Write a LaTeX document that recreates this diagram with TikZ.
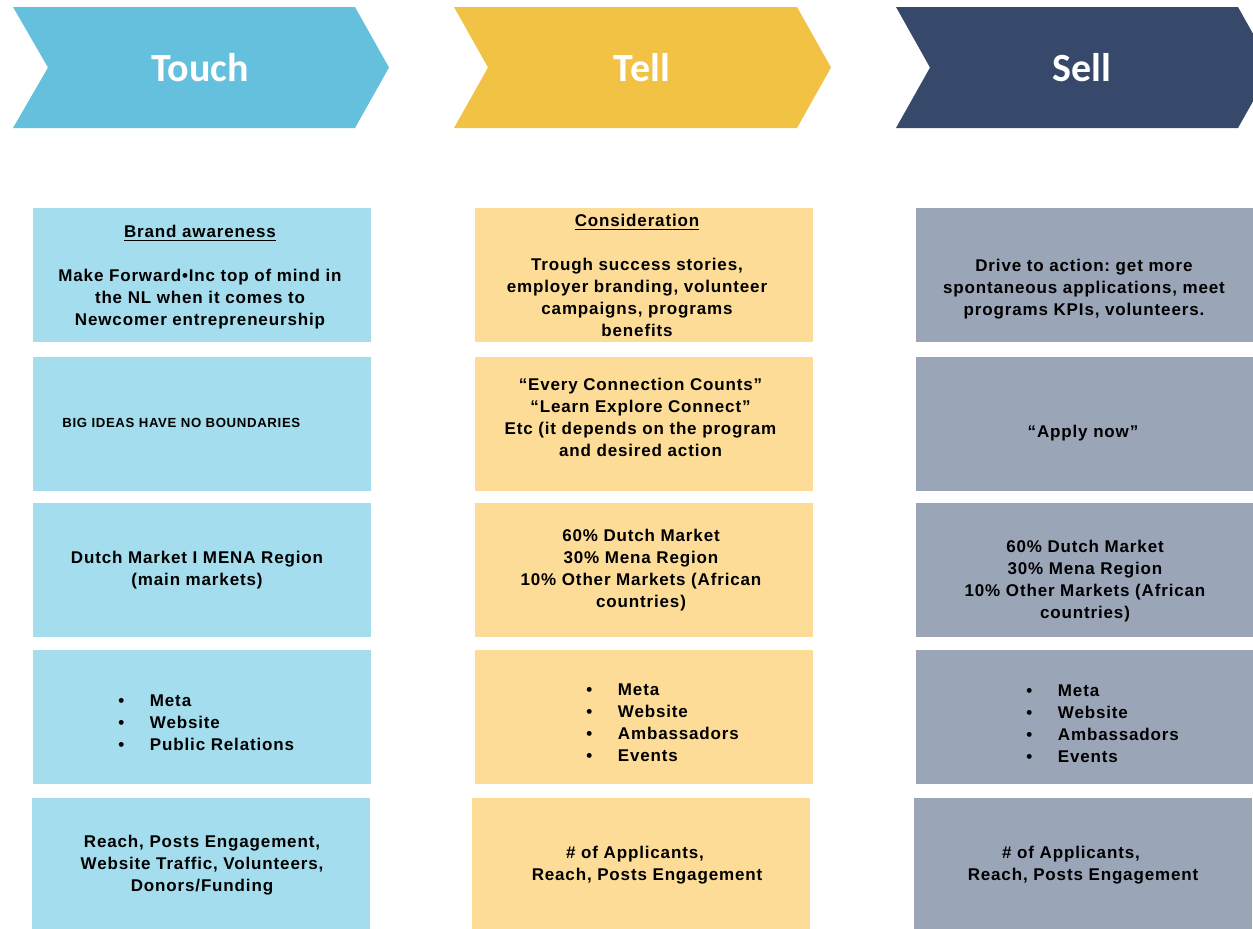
\documentclass[tikz,border=0pt]{standalone}
\usepackage{fontspec}
\setmainfont{Liberation Sans}
\newfontfamily\cellfont{Liberation Sans}[LetterSpace=5]
\newfontfamily\headfont{Carlito}
\frenchspacing
\usepackage{tikz}
\definecolor{touchblue}{HTML}{65C0DE}
\definecolor{tellgold}{HTML}{F1C244}
\definecolor{sellnavy}{HTML}{37496B}
\definecolor{touchlight}{HTML}{A4DDED}
\definecolor{telllight}{HTML}{FCDC96}
\definecolor{selllight}{HTML}{9AA5B8}
\tikzset {
  % captions on the chevrons
  head/.style={font=\headfont\bfseries\fontsize{20}{24}\selectfont, text=white},
  % coloured cells under each chevron
  cell/.style={minimum width=169pt, minimum height=67pt, inner sep=0pt},
  touchcell/.style={cell, fill=touchlight},
  tellcell/.style={cell, fill=telllight},
  sellcell/.style={cell, fill=selllight},
  % text in the cells
  txt/.style={font=\cellfont\bfseries\fontsize{8.5}{11}\selectfont, align=center, inner sep=0pt},
  bullets/.style={txt, align=left, anchor=west},
}
\newcommand{\channels}[1]{%
  \begin{tabular}{@{}l@{\hspace{12.8pt}}l@{}}#1\end{tabular}%
}

\begin{document}
\begin{tikzpicture}[x=0.5pt, y=-0.5pt]
        \useasboundingbox (0,0) rectangle (1253,928);
        \clip (0,0) rectangle (1253,928);

        % chevrons
        \fill[touchblue] (13,7) -- (355,7) -- (389,67.5) -- (355,128) -- (13,128) -- (48,67.5) -- cycle;
        \fill[tellgold] (454,7) -- (797,7) -- (831,67.5) -- (797,128) -- (454,128) -- (488,67.5) -- cycle;
        \fill[sellnavy] (896,7) -- (1238,7) -- (1272,67.5) -- (1238,128) -- (896,128) -- (930,67.5) -- cycle;
        \node[head] (touch) at (200,68) {Touch};
        \node[head] (tell) at (642,68) {Tell};
        \node[head] (sell) at (1082,68) {Sell};

        % Touch column
        \node[touchcell] (t1) at (202,275) {};
        \node[touchcell] (t2) at (202,423.5) {};
        \node[touchcell] (t3) at (202,570) {};
        \node[touchcell] (t4) at (202,717) {};
        \node[touchcell, minimum height=68.5pt] (t5) at (200.5,866.5) {};

        \node[txt] (goal-t) at (200,277) {\underline{Brand awareness}\\[11pt]
          Make Forward•Inc top of mind in\\the NL when it comes to\\Newcomer entrepreneurship};
        \node[txt, anchor=west, font=\cellfont\bfseries\fontsize{6.6}{8}\selectfont] (msg-t) at (62,423) {BIG IDEAS HAVE NO BOUNDARIES};
        \node[txt] (mkt-t) at (197,570) {Dutch Market I MENA Region\\(main markets)};
        \node[bullets] (ch-t) at (118,724) {\channels{\textbullet & Meta\\ \textbullet & Website\\ \textbullet & Public Relations}};
        \node[txt] (kpi-t) at (202,865.5) {Reach, Posts Engagement,\\Website Traffic, Volunteers,\\Donors/Funding};

        % Tell column
        \node[tellcell] (e1) at (643.5,275) {};
        \node[tellcell] (e2) at (643.5,423.5) {};
        \node[tellcell] (e3) at (643.5,570) {};
        \node[tellcell] (e4) at (643.5,717) {};
        \node[tellcell, minimum height=68.5pt] (e5) at (641,866.5) {};

        \node[txt] (goal-e) at (637,275) {\underline{Consideration}\\[11pt]
          Trough success stories,\\employer branding, volunteer\\campaigns, programs\\benefits};
        \node[txt] (msg-e) at (640.5,417) {“Every Connection Counts”\\“Learn Explore Connect”\\Etc (it depends on the program\\and desired action};
        \node[txt] (mkt-e) at (641,570) {60\% Dutch Market\\30\% Mena Region\\10\% Other Markets (African\\countries)};
        \node[bullets] (ch-e) at (586,724) {\channels{\textbullet & Meta\\ \textbullet & Website\\ \textbullet & Ambassadors\\ \textbullet & Events}};
        \node[txt] (kpi-e) at (647,865.5) {\# of Applicants,\hspace{12pt}\mbox{}\\Reach, Posts Engagement};

        % Sell column
        \node[sellcell] (s1) at (1084.5,275) {};
        \node[sellcell] (s2) at (1084.5,423.5) {};
        \node[sellcell] (s3) at (1084.5,570) {};
        \node[sellcell] (s4) at (1084.5,717) {};
        \node[sellcell, minimum height=68.5pt] (s5) at (1083,866.5) {};

        \node[txt] (goal-s) at (1084,289) {Drive to action: get more\\spontaneous applications, meet\\programs KPIs, volunteers.};
        \node[txt] (msg-s) at (1083,433) {“Apply now”};
        \node[txt] (mkt-s) at (1085,581) {60\% Dutch Market\\30\% Mena Region\\10\% Other Markets (African\\countries)};
        \node[bullets] (ch-s) at (1026,725.5) {\channels{\textbullet & Meta\\ \textbullet & Website\\ \textbullet & Ambassadors\\ \textbullet & Events}};
        \node[txt] (kpi-s) at (1083,865.5) {\# of Applicants,\hspace{12pt}\mbox{}\\Reach, Posts Engagement};
      \end{tikzpicture}
\end{document}
